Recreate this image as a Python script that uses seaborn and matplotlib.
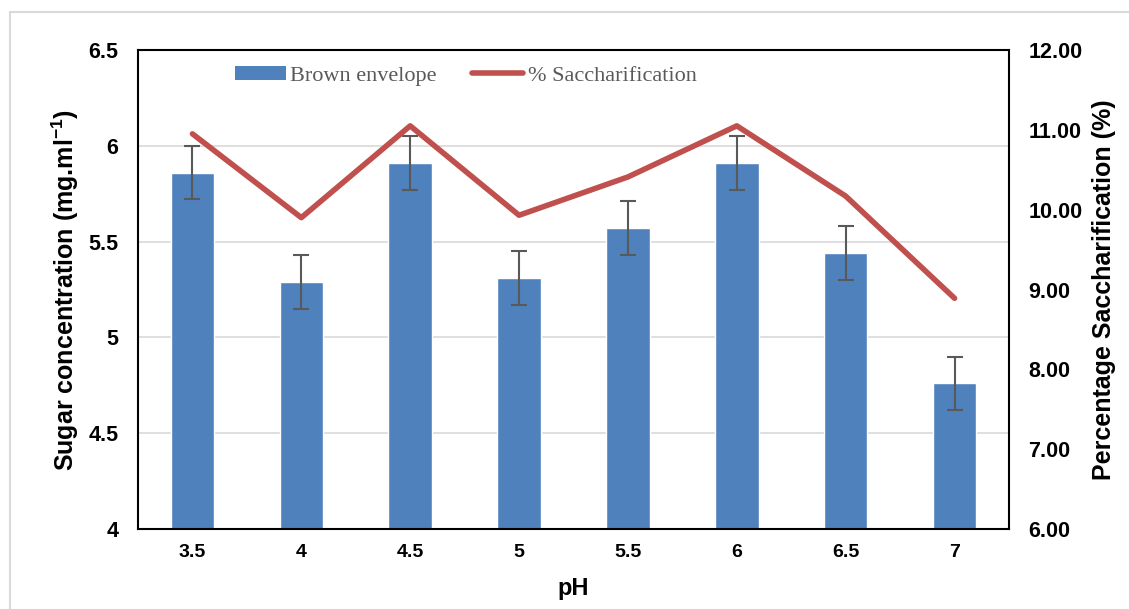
import numpy as np
import pandas as pd
import matplotlib
matplotlib.use("Agg")
import matplotlib.pyplot as plt
import seaborn as sns
from matplotlib.patches import Rectangle, Patch
from matplotlib.lines import Line2D

ph_labels = ["3.5", "4", "4.5", "5", "5.5", "6", "6.5", "7"]
sugar = [5.86, 5.29, 5.91, 5.31, 5.57, 5.91, 5.44, 4.76]
sugar_err = [0.14, 0.14, 0.14, 0.14, 0.14, 0.14, 0.14, 0.14]
saccharification = [10.95, 9.90, 11.05, 9.93, 10.41, 11.05, 10.17, 8.89]

sns.set_theme(style="white")
plt.rcParams['font.family'] = ['Liberation Sans', 'DejaVu Sans']
plt.rcParams['text.color'] = 'black'
plt.rcParams['axes.labelcolor'] = 'black'
plt.rcParams['xtick.color'] = 'black'
plt.rcParams['ytick.color'] = 'black'
plt.rcParams['mathtext.fontset'] = 'custom'
plt.rcParams['mathtext.rm'] = 'Liberation Sans'
plt.rcParams['mathtext.bf'] = 'Liberation Sans:bold'
plt.rcParams['axes.unicode_minus'] = False

bar_color = "#4f81bd"
line_color = "#c0504d"

fig = plt.figure(figsize=(11.29, 6.09), dpi=100)
fig.patches.append(Rectangle((10/1129, -0.1), 1.2, (609-12)/609 + 0.1,
                             transform=fig.transFigure, fill=False,
                             edgecolor="#d9d9d9", linewidth=1.5))
ax = fig.add_axes([138/1129, 1-529/609, (1009-138)/1129, (529-50)/609])

df = pd.DataFrame({"pH": ph_labels, "sugar": sugar})
sns.barplot(data=df, x="pH", y="sugar", order=ph_labels, color=bar_color,
            width=0.4, saturation=1, ax=ax, errorbar=None, zorder=2)
xpos = np.arange(len(ph_labels))
ax.errorbar(xpos, sugar, yerr=sugar_err, fmt="none", ecolor="#595959",
            elinewidth=1.5, capsize=6, capthick=1.5, zorder=3)

ax.set_ylim(4, 6.5)
ax.set_yticks([4, 4.5, 5, 5.5, 6, 6.5])
ax.set_yticklabels(["4", "4.5", "5", "5.5", "6", "6.5"])
ax.set_xlim(-0.5, len(ph_labels) - 0.5)
ax.yaxis.grid(True, color="#d9d9d9", linewidth=1.2, zorder=0)
ax.set_axisbelow(True)
for s in ax.spines.values():
    s.set_color("black")
    s.set_linewidth(1.5)
ax.tick_params(axis="x", length=0, labelsize=14, pad=11)
ax.tick_params(axis="y", length=0, labelsize=15.5, pad=14)
for lbl in ax.get_xticklabels() + ax.get_yticklabels():
    lbl.set_fontweight("bold")
ax.set_xlabel("pH", fontsize=17, fontweight="bold", labelpad=11)
ax.set_ylabel("Sugar concentration (mg.ml$\\mathbf{^{-1}}$)", fontsize=18,
              fontweight="bold", labelpad=5)

ax2 = ax.twinx()
sns.lineplot(x=xpos, y=saccharification, color=line_color, linewidth=4,
             ax=ax2, zorder=4)
ax2.set_ylim(6, 12)
ax2.set_yticks([6, 7, 8, 9, 10, 11, 12])
ax2.set_yticklabels([f"{v:.2f}" for v in [6, 7, 8, 9, 10, 11, 12]])
ax2.tick_params(axis="y", length=0, labelsize=15.5, pad=14)
for lbl in ax2.get_yticklabels():
    lbl.set_fontweight("bold")
ax2.set_ylabel("Percentage Saccharification (%)", fontsize=18,
               fontweight="bold", labelpad=7)
ax2.grid(False)
for s in ax2.spines.values():
    s.set_visible(False)

handles = [Patch(facecolor=bar_color, edgecolor="none"),
           Line2D([0], [0], color=line_color, linewidth=4)]
leg = ax2.legend(handles, ["Brown envelope", "% Saccharification"], ncol=2,
                 loc="upper left", bbox_to_anchor=(0.088, 1.009), frameon=False,
                 prop={"family": "Liberation Serif", "size": 16},
                 labelcolor="#595959", handlelength=2.3, handletextpad=0.2,
                 columnspacing=1.6, handleheight=0.6)

fig.savefig("out.png", dpi=100)
